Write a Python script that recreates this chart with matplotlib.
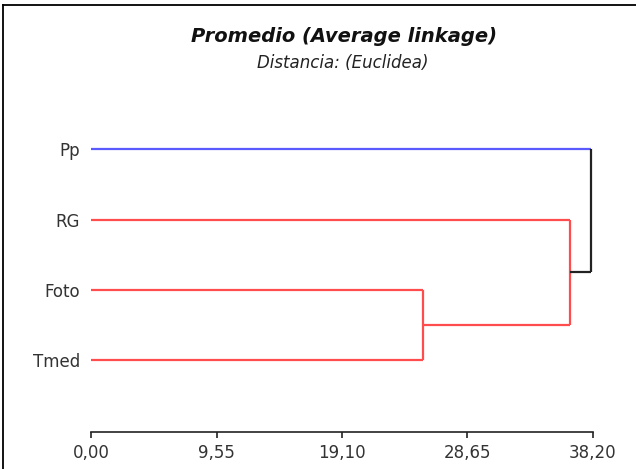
import matplotlib
matplotlib.use("Agg")
import matplotlib.pyplot as plt
from matplotlib.lines import Line2D

plt.rcParams['font.family'] = ['DejaVu Sans']

# ---- data ----
leaves = ["Pp", "RG", "Foto", "Tmed"]          # top to bottom
leaf_pos = [4, 3, 2, 1]
leaf_colors = ["#5a5aff", "#ff4d4d", "#ff4d4d", "#ff4d4d"]
# merges: (left child, right child, height, colour); children index leaves (0..3) or previous merges (4..)
merges = [
    (2, 3, 25.25, "#ff4d4d"),   # Foto + Tmed
    (1, 4, 36.45, "#ff4d4d"),   # RG + (Foto, Tmed)
    (0, 5, 38.03, "#222222"),   # Pp + rest
]
xticks = [0.00, 9.55, 19.10, 28.65, 38.20]
xtick_labels = ["0,00", "9,55", "19,10", "28,65", "38,20"]
title = "Promedio (Average linkage)"
subtitle = "Distancia: (Euclidea)"

fig = plt.figure(figsize=(6.36, 4.69), dpi=100)
W, H = 636, 469
ax = fig.add_axes([91 / W, (H - 432) / H, (593 - 91) / W, (432 - 110) / H])
ax.set_xlim(0, 38.2)
ax.set_ylim(-0.026, 4.56)

# node positions: leaves start at height 0
node_y = list(leaf_pos)
node_h = [0.0] * len(leaves)
node_col = list(leaf_colors)
for a, b, h, col in merges:
    for child in (a, b):
        c = node_col[child] if child < len(leaves) else node_col[child]
        # horizontal line from child's height to merge height, in child's colour
        ax.plot([node_h[child], h], [node_y[child], node_y[child]],
                color=node_col[child] if node_col[child] == col or child < len(leaves) else col,
                lw=1.6, solid_capstyle='butt', clip_on=False)
    ax.plot([h, h], [node_y[a], node_y[b]], color=col, lw=1.6,
            solid_capstyle='butt', clip_on=False)
    node_y.append((node_y[a] + node_y[b]) / 2)
    node_h.append(h)
    node_col.append(col)

for s in ["top", "right", "left"]:
    ax.spines[s].set_visible(False)
ax.spines["bottom"].set_bounds(0, 38.2)
ax.spines["bottom"].set_linewidth(1.2)
ax.spines["bottom"].set_color("#222222")
ax.set_xticks(xticks)
ax.set_xticklabels(xtick_labels)
ax.tick_params(axis='x', length=4.5, width=1.2, color="#222222", labelsize=12,
               pad=4, labelcolor="#333333")
ax.set_yticks(leaf_pos)
ax.set_yticklabels(leaves)
ax.tick_params(axis='y', length=0, labelsize=12, pad=8, labelcolor="#333333")

fig.text(344 / W, 1 - 37 / H, title, ha='center', va='center', fontsize=14,
         fontweight='bold', fontstyle='italic', color="#111111")
fig.text(343 / W, 1 - 63 / H, subtitle, ha='center', va='center', fontsize=12,
         fontstyle='italic', color="#222222")

# figure frame (left and top)
fig.add_artist(Line2D([3.5 / W, 3.5 / W], [0, 1 - 5 / H], transform=fig.transFigure,
                      color="black", lw=1.3))
fig.add_artist(Line2D([3.5 / W, 1], [1 - 5 / H, 1 - 5 / H], transform=fig.transFigure,
                      color="black", lw=1.3))

fig.savefig("out.png", dpi=100)
